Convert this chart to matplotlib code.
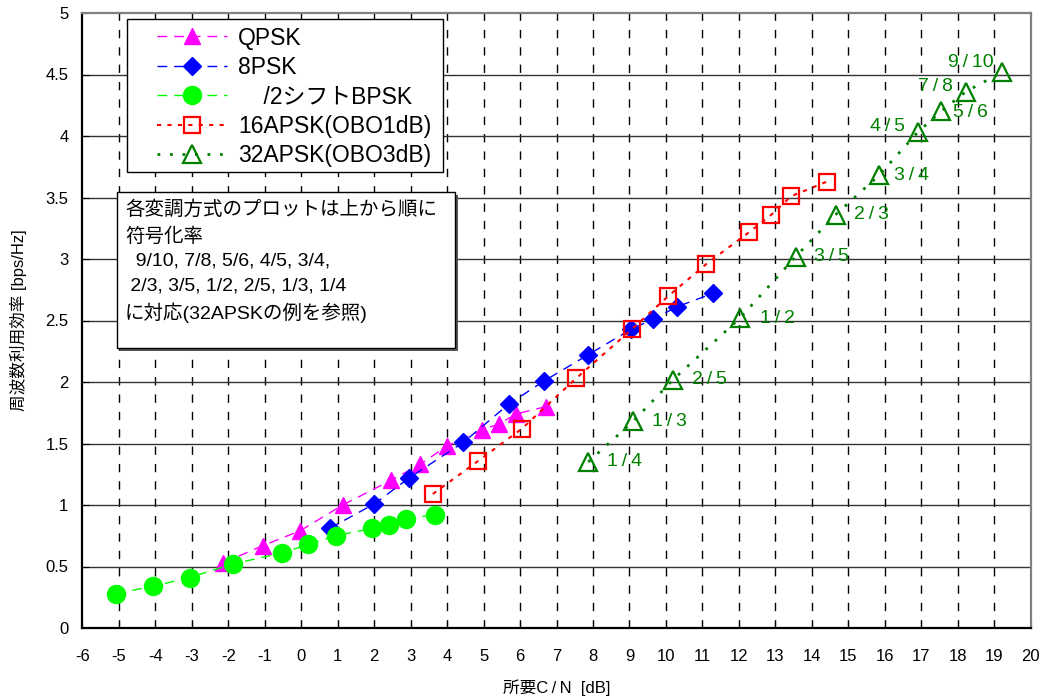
import matplotlib
matplotlib.use('Agg')
import matplotlib.pyplot as plt
from matplotlib.patches import Rectangle
import numpy as np

plt.rcParams['font.family'] = ['Liberation Sans', 'Noto Sans CJK JP', 'DejaVu Sans']
plt.rcParams['axes.unicode_minus'] = False

# ---------------- data ----------------
qpsk_cn = [-2.13, -1.05, -0.03, 1.14, 2.46, 3.26, 4.00, 4.95, 5.43, 5.89, 6.71]
qpsk_eff = [0.53, 0.67, 0.79, 1.00, 1.20, 1.33, 1.48, 1.61, 1.66, 1.74, 1.80]

psk8_cn = [0.78, 2.01, 2.96, 4.45, 5.69, 6.67, 7.86, 9.05, 9.65, 10.29, 11.28]
psk8_eff = [0.81, 1.01, 1.22, 1.51, 1.82, 2.01, 2.22, 2.43, 2.51, 2.61, 2.72]

bpsk_cn = [-5.08, -4.05, -3.06, -1.88, -0.53, 0.20, 0.95, 1.95, 2.40, 2.88, 3.68]
bpsk_eff = [0.28, 0.34, 0.41, 0.52, 0.61, 0.68, 0.75, 0.81, 0.84, 0.89, 0.92]

apsk16_cn = [3.61, 4.86, 6.05, 7.54, 9.07, 10.07, 11.11, 12.29, 12.89, 13.43, 14.42]
apsk16_eff = [1.09, 1.36, 1.62, 2.03, 2.43, 2.70, 2.96, 3.22, 3.36, 3.51, 3.63]

apsk32_cn = [7.87, 9.10, 10.20, 12.03, 13.56, 14.65, 15.84, 16.90, 17.54, 18.22, 19.22]
apsk32_eff = [1.35, 1.68, 2.02, 2.52, 3.02, 3.36, 3.68, 4.03, 4.20, 4.36, 4.52]
apsk32_rates = ['1/4', '1/3', '2/5', '1/2', '3/5', '2/3', '3/4', '4/5', '5/6', '7/8', '9/10']

series_labels = ['QPSK', '8PSK', '    /2シフトBPSK', '16APSK(OBO1dB)', '32APSK(OBO3dB)']

note_lines = ['各変調方式のプロットは上から順に',
              '符号化率',
              '  9/10, 7/8, 5/6, 4/5, 3/4,',
              ' 2/3, 3/5, 1/2, 2/5, 1/3, 1/4',
              'に対応(32APSKの例を参照)']

x_ticks = list(range(-6, 21))
y_ticks = [0, 0.5, 1, 1.5, 2, 2.5, 3, 3.5, 4, 4.5, 5]

# ---------------- figure ----------------
W, H = 1043, 697
fig = plt.figure(figsize=(W / 100, H / 100), dpi=100)
ax = fig.add_axes([82.3 / W, 69 / H, (1030.7 - 82.3) / W, 615 / H])
ax.set_xlim(-6, 20)
ax.set_ylim(0, 5)

# grid
for xv in x_ticks[1:-1]:
    ax.axvline(xv, color='black', lw=1.0, ls=(0, (6, 6.5)), zorder=1)
for yv in y_ticks[1:-1]:
    ax.axhline(yv, color='#333333', lw=1.0, zorder=1)

ln_q, = ax.plot(qpsk_cn, qpsk_eff, color='#FF00FF', ls=(0, (7, 5)), lw=1.0,
                marker='^', ms=12, mfc='#FF00FF', mec='#FF00FF', zorder=3)
ln_8, = ax.plot(psk8_cn, psk8_eff, color='#0000FF', ls=(0, (7, 5)), lw=1.0,
                marker='D', ms=9.5, mfc='#0000FF', mec='#0000FF', zorder=3)
ln_b, = ax.plot(bpsk_cn, bpsk_eff, color='#00FF00', ls=(0, (7, 5)), lw=1.0,
                marker='o', ms=13, mfc='#00FF00', mec='#00FF00', zorder=3)
ln_16, = ax.plot(apsk16_cn, apsk16_eff, color='#FF0000', ls=(0, (2, 3)), lw=1.5,
                 marker='s', ms=11, mfc='none', mec='#FF0000', mew=1.6, zorder=3)
ln_32, = ax.plot(apsk32_cn, apsk32_eff, color='#008000', ls=(0, (1, 3.5)), lw=2.0,
                 marker='^', ms=13, mfc='none', mec='#008000', mew=1.6, zorder=3)

# rate labels for 32APSK (offsets in pixels)
label_offsets = [(36, 0), (36, 0), (36, 0), (37, 0), (36, 0), (36, 0), (33, 0),
                 (-30, 6), (29, -1), (-30, 5), (-31, 10)]
for xv, yv, r, off in zip(apsk32_cn, apsk32_eff, apsk32_rates, label_offsets):
    ax.annotate(r.replace('/', '\u2009/\u2009'), (xv, yv), xytext=off,
                textcoords='offset pixels', ha='center', va='center',
                fontsize=14, color='#008000', zorder=4)

# ticks / spines
ax.set_xticks(x_ticks)
ax.set_xticklabels([str(v) for v in x_ticks])
ax.set_yticks(y_ticks)
ax.set_yticklabels(['%g' % v for v in y_ticks])
ax.tick_params(axis='x', direction='in', length=5, pad=15, labelsize=12, color='black')
ax.tick_params(axis='y', direction='in', length=5, pad=10, labelsize=12, color='black')
for s in ['left', 'bottom']:
    ax.spines[s].set_color('black')
    ax.spines[s].set_linewidth(1.6)
for s in ['top', 'right']:
    ax.spines[s].set_color('#808080')
    ax.spines[s].set_linewidth(1.6)

ax.set_xlabel('所要C\u2009/\u2009N  [dB]', fontsize=12)
ax.xaxis.set_label_coords(0.5, (628 - 688) / 615)
ax.xaxis.label.set_va('center')
ax.set_ylabel('周波数利用効率 [bps/Hz]', fontsize=12)
ax.yaxis.set_label_coords((18 - 82.3) / 948.4, 0.5)
ax.yaxis.label.set_va('center')

def px2ax(px, py):
    return ((px - 82.3) / 948.4, (628 - py) / 615)

# legend frame
lx0, ly0 = px2ax(127, 172)
lx1, ly1 = px2ax(443, 19)
ax.add_patch(Rectangle((lx0, ly0), lx1 - lx0, ly1 - ly0, transform=ax.transAxes,
                       facecolor='white', edgecolor='black', lw=1.0, zorder=4.5))
ancx, ancy = px2ax(157, 26.5)
leg = ax.legend([ln_q, ln_8, ln_b, ln_16, ln_32], series_labels,
                loc='upper left', bbox_to_anchor=(ancx, ancy), borderaxespad=0,
                borderpad=0, frameon=False, fontsize=16.5, handlelength=3.06,
                handletextpad=0.48, labelspacing=0.28)
leg.set_zorder(5)

# note box with shadow
bx0, by0 = px2ax(117, 348)
bx1, by1 = px2ax(455, 192)
sh = 3 / 948.4
shy = 3 / 615
ax.add_patch(Rectangle((bx0 + sh, by0 - shy), bx1 - bx0, by1 - by0, transform=ax.transAxes,
                       facecolor='#555555', edgecolor='none', zorder=4.4))
ax.add_patch(Rectangle((bx0, by0), bx1 - bx0, by1 - by0, transform=ax.transAxes,
                       facecolor='white', edgecolor='black', lw=1.0, zorder=4.5))
line_y = [210, 236.7, 261, 286, 313]
for txt, yy in zip(note_lines, line_y):
    tx, ty = px2ax(125, yy)
    ax.text(tx, ty, txt, transform=ax.transAxes, ha='left', va='center',
            fontsize=14, color='black', zorder=6)

fig.savefig('out.png', dpi=100)
